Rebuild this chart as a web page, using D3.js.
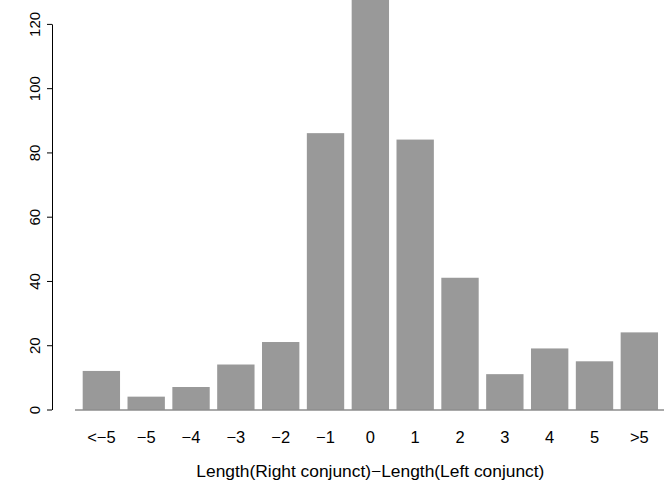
<!DOCTYPE html>
<html><head><meta charset="utf-8">
<script src="https://cdn.jsdelivr.net/npm/d3@7"></script>
<style>body{margin:0;background:#fff}svg{display:block}text{font-family:"Liberation Sans",Arial,sans-serif}</style>
</head><body>
<script>
const categories = ["<\u22125","\u22125","\u22124","\u22123","\u22122","\u22121","0","1","2","3","4","5",">5"];
const counts = [12,4,7,14,21,86,132,84,41,11,19,15,24];
const yTicks = [0,20,40,60,80,100,120];
const xTitle = "Length(Right conjunct)\u2212Length(Left conjunct)";

const W = 664, H = 482;
const svg = d3.select("body").append("svg").attr("width", W).attr("height", H);

const x = d3.scaleBand().domain(categories).range([78.95, 661.75]).paddingInner(1/6).paddingOuter(1/12);
const y = d3.scaleLinear().domain([0,120]).range([409.5, 23.9]);

svg.selectAll("rect.bar").data(counts).join("rect")
  .attr("class","bar")
  .attr("x",(d,i)=>x(categories[i]))
  .attr("width",x.bandwidth())
  .attr("y",d=>y(d))
  .attr("height",d=>y(0)-y(d))
  .attr("fill","#999999");

// baseline
svg.append("line").attr("x1",75).attr("x2",664).attr("y1",y(0)+0.5).attr("y2",y(0)+0.5)
  .attr("stroke","#555").attr("stroke-width",1);

// y axis
const yAxis = d3.axisLeft(y).tickValues(yTicks).tickSize(5).tickSizeOuter(0).tickFormat(d3.format("d"));
const gy = svg.append("g").attr("transform","translate(52,0)").call(yAxis);
gy.select(".domain").attr("stroke","#000");
gy.selectAll(".tick line").attr("stroke","#000");
gy.selectAll(".tick text")
  .style("font-size","15px").attr("fill","#000")
  .attr("x",null).attr("dy",null)
  .attr("text-anchor","middle")
  .attr("transform","translate(-12.5,0) rotate(-90)");

// x labels
svg.selectAll("text.xl").data(categories).join("text")
  .attr("class","xl")
  .attr("x",d=>x(d)+x.bandwidth()/2)
  .attr("y",442.7)
  .attr("text-anchor","middle")
  .style("font-size","16.5px")
  .text(d=>d);

svg.append("text")
  .attr("x",(x.range()[0]+x.range()[1])/2)
  .attr("y",477)
  .attr("text-anchor","middle")
  .style("font-size","16.5px")
  .attr("textLength",348)
  .attr("lengthAdjust","spacingAndGlyphs")
  .text(xTitle);
</script>
</body></html>
